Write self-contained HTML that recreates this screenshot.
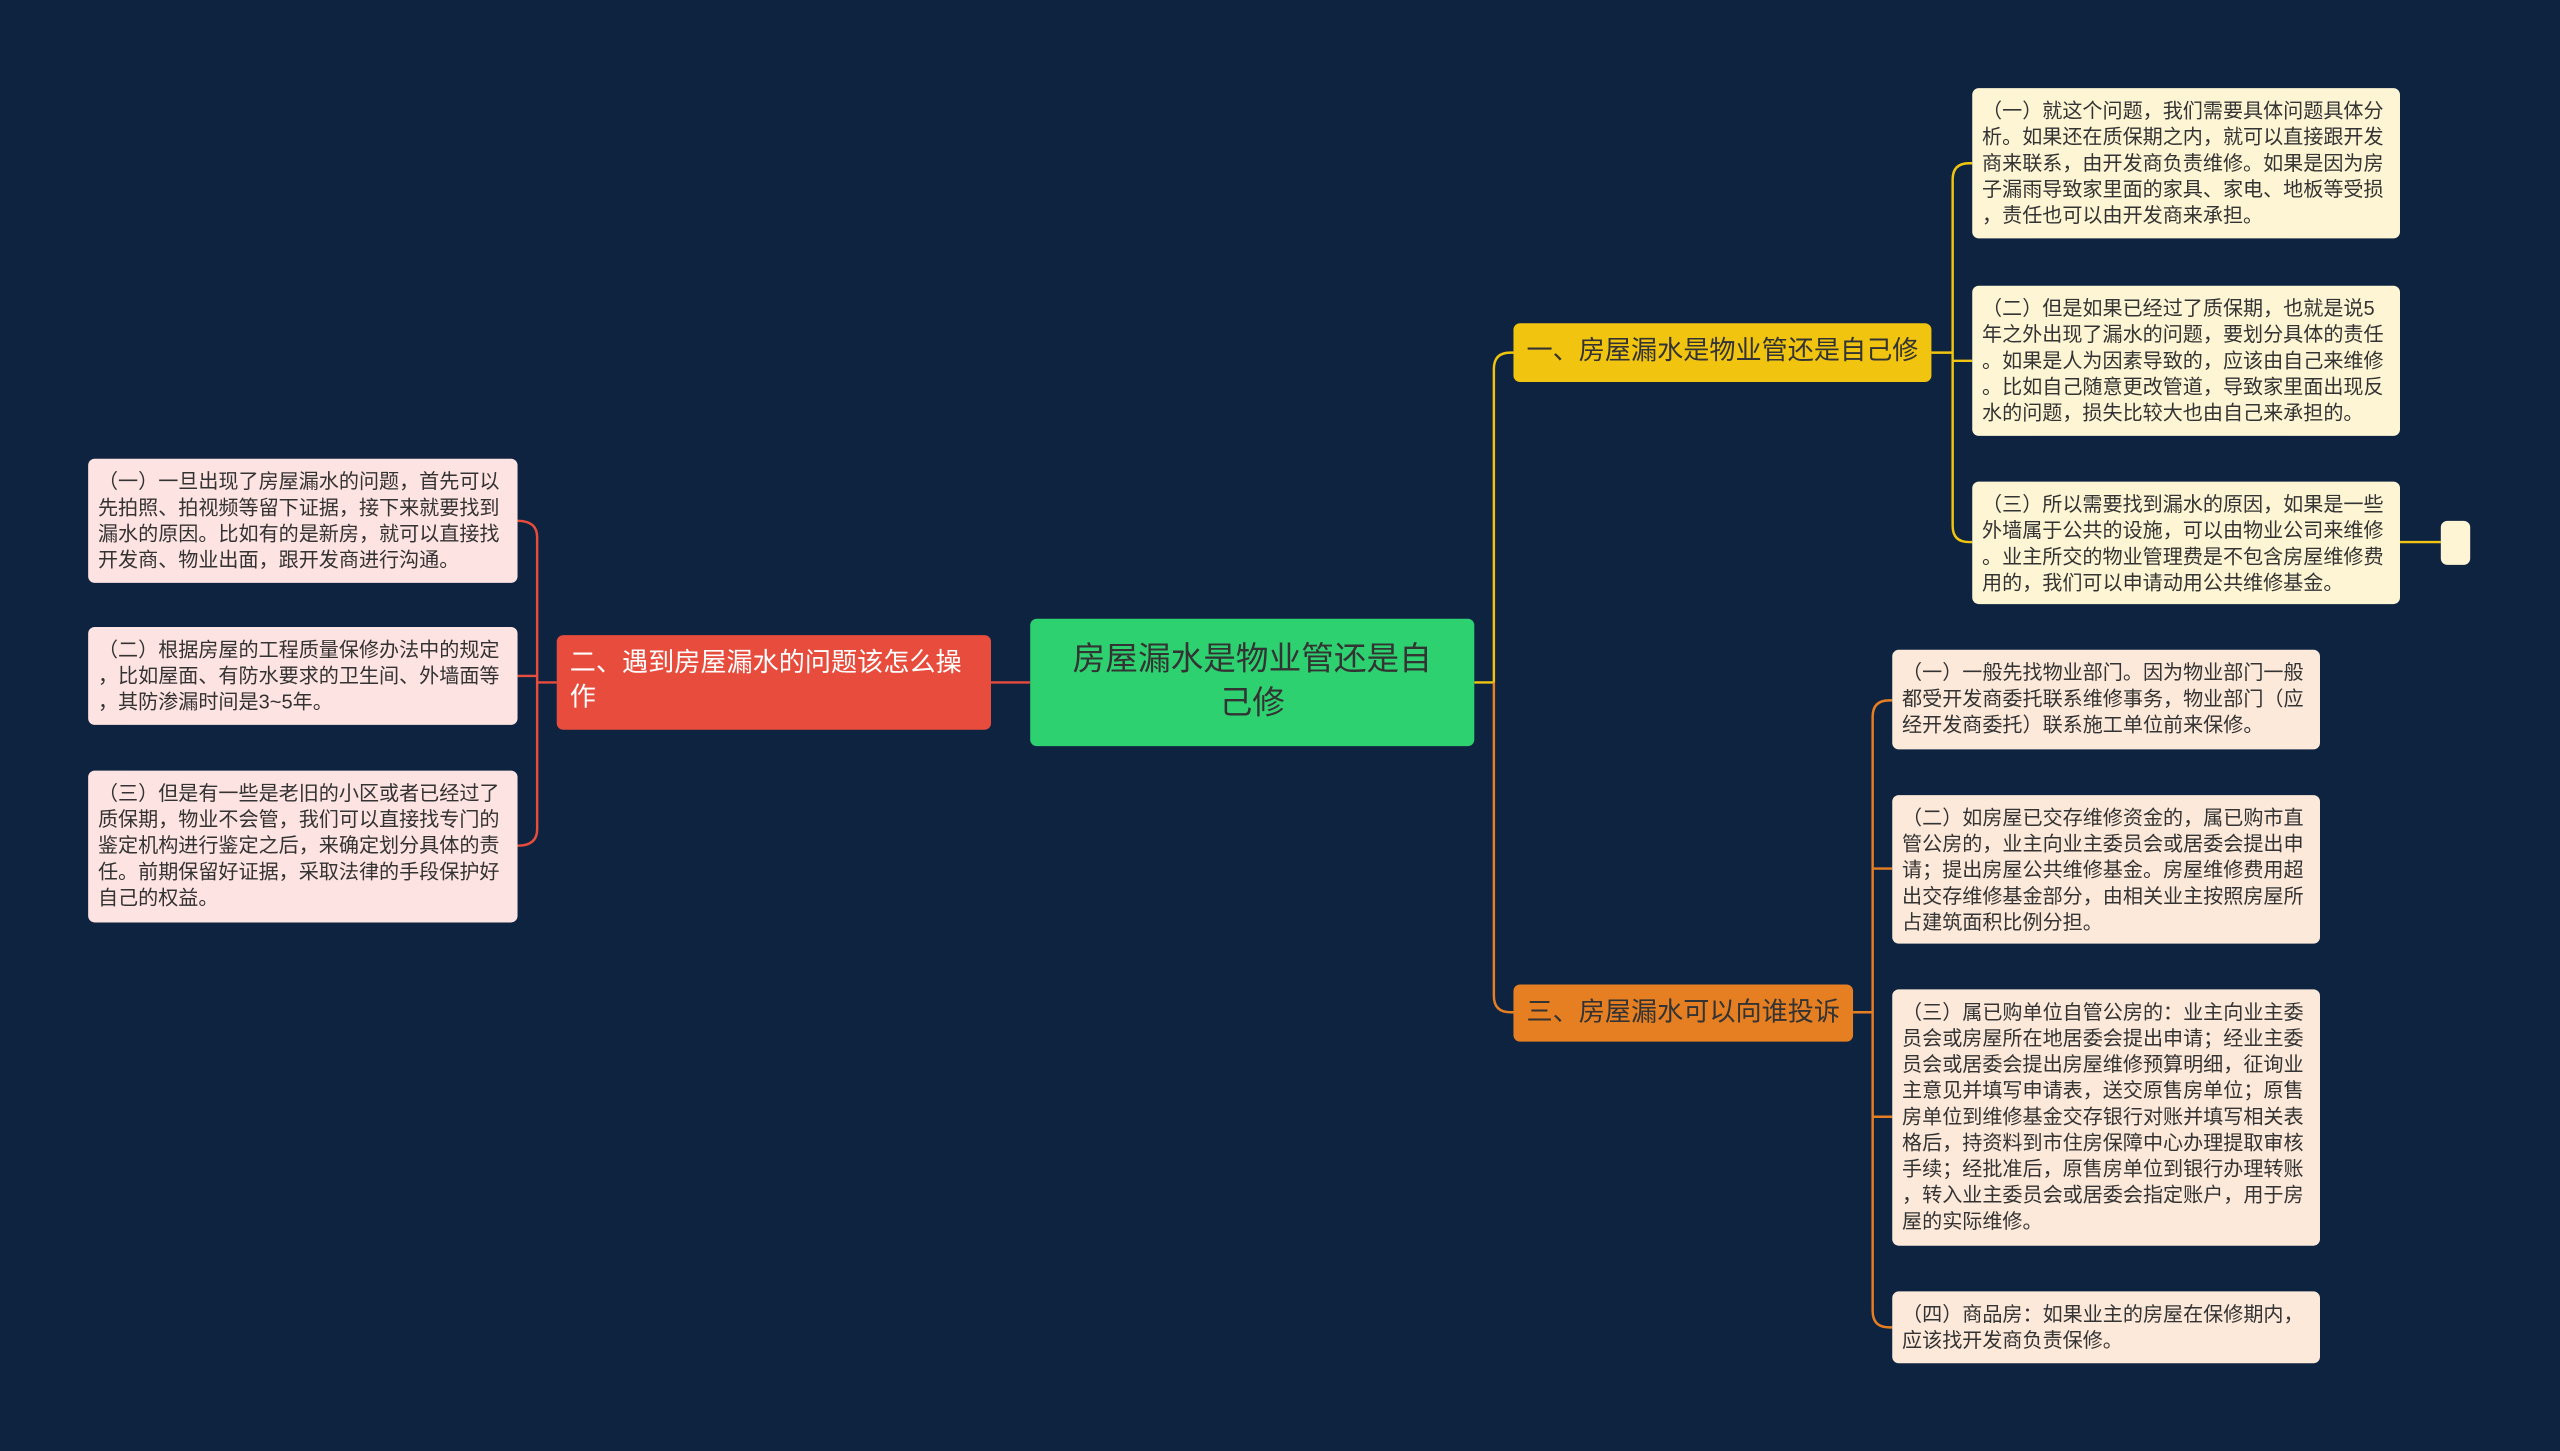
<!DOCTYPE html>
<html><head><meta charset="utf-8">
<style>
html,body{margin:0;padding:0;background:#0e2340;width:2560px;height:1451px;overflow:hidden}
#s{position:absolute;left:0;top:0;width:1568px;height:889px;transform:scale(1.63265);transform-origin:0 0;font-family:"Liberation Sans","Noto Sans CJK SC",sans-serif}
.n{position:absolute;box-sizing:border-box;border-radius:4px}
.leaf{font-size:12.3px;line-height:16px;color:#333;padding:6px 6px;line-break:anywhere;word-break:break-all}
.lp{background:#fde3e1}
.ly{background:#fdf5d4}
.lo{background:#fce9da}
</style></head><body>
<div id="s">
<svg width="1568" height="889" style="position:absolute;left:0;top:0">
<g fill="none" stroke-width="1.5">
<path d="M903 418 H915" stroke="#f1c40f"/>
<path d="M915 418 V226 Q915 216 925 216 H927" stroke="#f1c40f"/>
<path d="M915 418 V610 Q915 620 925 620 H927" stroke="#e67e22"/>
<path d="M631 418 H607" stroke="#e74c3c"/>
<path d="M341 418 H329" stroke="#e74c3c"/>
<path d="M317 319 Q329 319 329 329 V508 Q329 518 317 518 M329 414 H317" stroke="#e74c3c"/>
<path d="M1183 216 H1196" stroke="#f1c40f"/>
<path d="M1208 100 H1206 Q1196 100 1196 110 V322 Q1196 332 1206 332 H1208 M1196 221 H1208" stroke="#f1c40f"/>
<path d="M1470 332 H1495" stroke="#f1c40f"/>
<path d="M1135 620 H1147" stroke="#e67e22"/>
<path d="M1159 429 H1157 Q1147 429 1147 439 V803 Q1147 813 1157 813 H1159 M1147 532 H1159 M1147 684 H1159" stroke="#e67e22"/>
</g>
</svg>
<div class="n" style="left:631px;top:379px;width:272px;height:78px;background:#2ed16f;color:#333;font-size:20px;line-height:27px;text-align:center;padding:12px 22px">房屋漏水是物业管还是自己修</div>
<div class="n" style="left:341px;top:389px;width:266px;height:58px;background:#e74c3c;color:#fff;font-size:16px;line-height:21px;padding:7px 8px">二、遇到房屋漏水的问题该怎么操作</div>
<div class="n" style="left:927px;top:198px;width:256px;height:36px;background:#f1c40f;color:#333;font-size:16px;line-height:36px;padding:0 8px">一、房屋漏水是物业管还是自己修</div>
<div class="n" style="left:927px;top:603px;width:208px;height:35px;background:#e67e22;color:#333;font-size:16px;line-height:35px;padding:0 8px">三、房屋漏水可以向谁投诉</div>

<div class="n leaf lp" style="left:54px;top:281px;width:263px;height:76px">（一）一旦出现了房屋漏水的问题，首先可以先拍照、拍视频等留下证据，接下来就要找到漏水的原因。比如有的是新房，就可以直接找开发商、物业出面，跟开发商进行沟通。</div>
<div class="n leaf lp" style="left:54px;top:384px;width:263px;height:60px">（二）根据房屋的工程质量保修办法中的规定，比如屋面、有防水要求的卫生间、外墙面等，其防渗漏时间是3~5年。</div>
<div class="n leaf lp" style="left:54px;top:472px;width:263px;height:93px">（三）但是有一些是老旧的小区或者已经过了质保期，物业不会管，我们可以直接找专门的鉴定机构进行鉴定之后，来确定划分具体的责任。前期保留好证据，采取法律的手段保护好自己的权益。</div>

<div class="n leaf ly" style="left:1208px;top:54px;width:262px;height:92px">（一）就这个问题，我们需要具体问题具体分析。如果还在质保期之内，就可以直接跟开发商来联系，由开发商负责维修。如果是因为房子漏雨导致家里面的家具、家电、地板等受损，责任也可以由开发商来承担。</div>
<div class="n leaf ly" style="left:1208px;top:175px;width:262px;height:92px">（二）但是如果已经过了质保期，也就是说5年之外出现了漏水的问题，要划分具体的责任。如果是人为因素导致的，应该由自己来维修。比如自己随意更改管道，导致家里面出现反水的问题，损失比较大也由自己来承担的。</div>
<div class="n leaf ly" style="left:1208px;top:295px;width:262px;height:75px">（三）所以需要找到漏水的原因，如果是一些外墙属于公共的设施，可以由物业公司来维修。业主所交的物业管理费是不包含房屋维修费用的，我们可以申请动用公共维修基金。</div>
<div class="n ly" style="left:1495px;top:319px;width:18px;height:27px"></div>

<div class="n leaf lo" style="left:1159px;top:398px;width:262px;height:61px">（一）一般先找物业部门。因为物业部门一般都受开发商委托联系维修事务，物业部门（应经开发商委托）联系施工单位前来保修。</div>
<div class="n leaf lo" style="left:1159px;top:487px;width:262px;height:91px">（二）如房屋已交存维修资金的，属已购市直管公房的，业主向业主委员会或居委会提出申请；提出房屋公共维修基金。房屋维修费用超出交存维修基金部分，由相关业主按照房屋所占建筑面积比例分担。</div>
<div class="n leaf lo" style="left:1159px;top:606px;width:262px;height:157px">（三）属已购单位自管公房的：业主向业主委员会或房屋所在地居委会提出申请；经业主委员会或居委会提出房屋维修预算明细，征询业主意见并填写申请表，送交原售房单位；原售房单位到维修基金交存银行对账并填写相关表格后，持资料到市住房保障中心办理提取审核手续；经批准后，原售房单位到银行办理转账，转入业主委员会或居委会指定账户，用于房屋的实际维修。</div>
<div class="n leaf lo" style="left:1159px;top:791px;width:262px;height:44px">（四）商品房：如果业主的房屋在保修期内，应该找开发商负责保修。</div>
</div>
</body></html>
